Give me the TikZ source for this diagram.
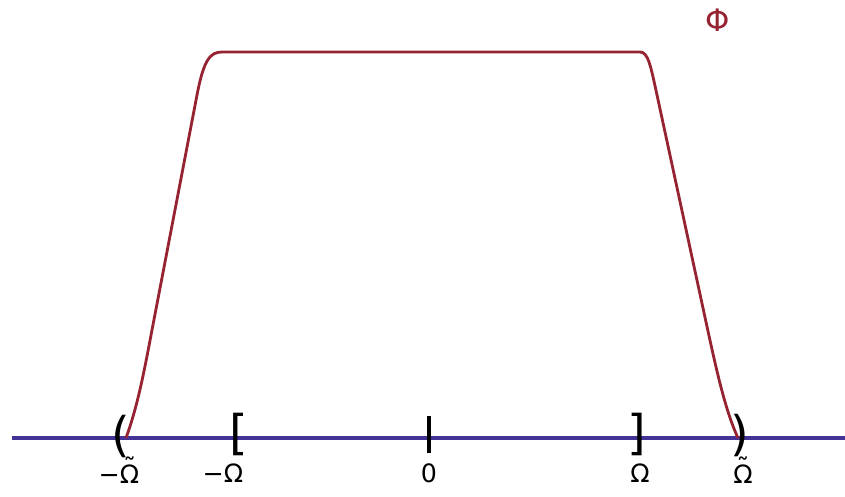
\documentclass[tikz,border=0pt]{standalone}
\usepackage{fontspec}
\setmainfont{DejaVu Sans}
\usepackage{tikz}
\usetikzlibrary{positioning}

\definecolor{axisblue}{RGB}{68,50,150}
\definecolor{phired}{RGB}{150,35,50}

% capital with a tilde on top
\newcommand{\tildecap}[1]{{\setbox0\hbox{#1}\rlap{\hbox to\wd0{\hss\raisebox{0.27em}{˜}\hss}}#1}}

\begin{document}
\begin{tikzpicture}[
    x=0.025cm, y=-0.025cm,
    axisline/.style={draw=axisblue, line width=2.2pt},
    philine/.style={draw=phired, line width=2pt, line join=round},
    brk/.style={inner sep=0pt, font=\fontsize{34}{36}\selectfont},
    tickline/.style={draw=black, line width=3pt},
    lbl/.style={inner sep=0pt, anchor=base, font=\fontsize{18}{20}\selectfont},
]
    \useasboundingbox (0,0) rectangle (845,496);

    % axis
    \coordinate (axl) at (12,438);
    \coordinate (axr) at (845,438);
    \draw[axisline] (axl) -- (axr);

    % the window function
    \draw[philine] (126,438) .. controls (138,405) and (144.4,370) .. (152,330)
        -- (197,95) .. controls (203.7,60) and (210,52) .. (222,52)
        -- (640,52) .. controls (648,52) and (650.5,65) .. (657,95)
        -- (706,322) .. controls (716,368) and (725,410) .. (738,438);
    \node[text=phired, inner sep=0pt, font=\fontsize{22}{24}\selectfont] (phi) at (718,20) {Φ};

    % interval ends
    \node[brk] (lo) at (121,436) {(};
    \node[brk] (li) at (239,434) {[};
    \node[brk] (ri) at (637,434) {]};
    \node[brk] (ro) at (740,435) {)};
    \coordinate (zt) at (429,416);
    \coordinate (zb) at (429,453);
    \draw[tickline] (zt) -- (zb);

    % labels
    \node[lbl] (llo) at (119,483) {−\tildecap{Ω}};
    \node[lbl] (lli) at (223,482) {−Ω};
    \node[lbl] (lz) at (429,482) {0};
    \node[lbl] (lri) at (640,482) {Ω};
    \node[lbl] (lro) at (743,483) {\tildecap{Ω}};
\end{tikzpicture}
\end{document}
